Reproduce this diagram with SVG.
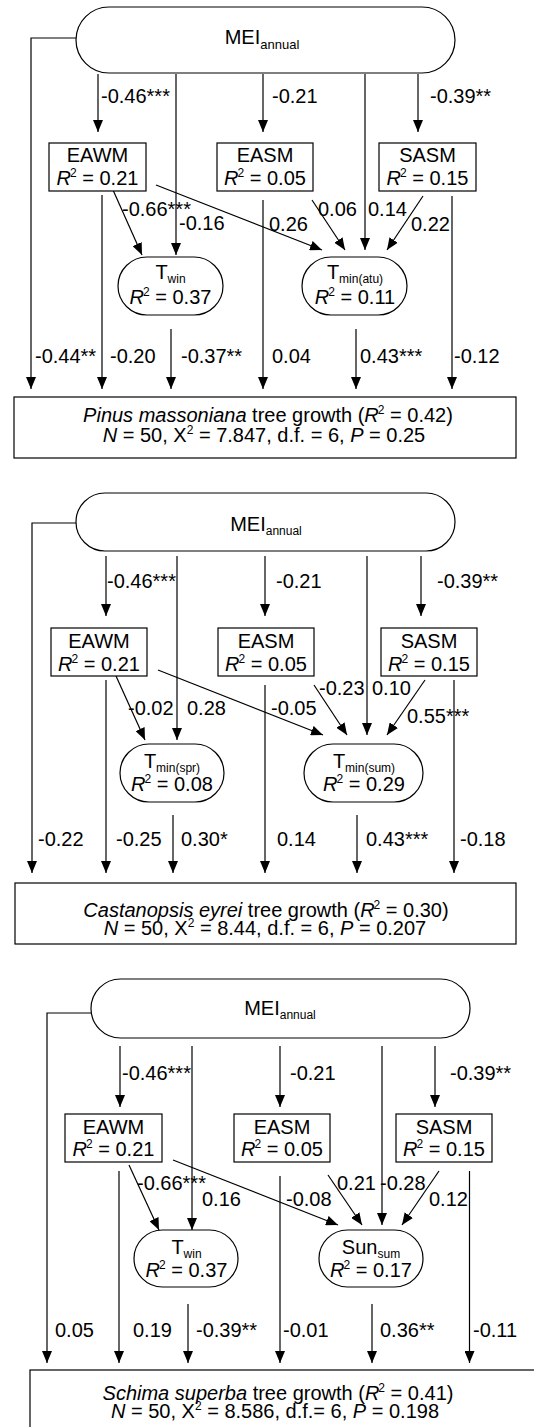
<svg xmlns="http://www.w3.org/2000/svg" width="534" height="1427" viewBox="0 0 534 1427">
<defs>
<marker id="ah" viewBox="0 0 12 10" refX="12" refY="5" markerWidth="12" markerHeight="10" markerUnits="userSpaceOnUse" orient="auto"><path d="M0,0 L12,5 L0,10 z" fill="#000"/></marker>
<style>
.ln{stroke:#000;stroke-width:1.2;fill:none}
.ar{marker-end:url(#ah)}
.bx{fill:#fff;stroke:#000;stroke-width:1.2}
text{font-family:"Liberation Sans",Arial,sans-serif;font-size:20px;fill:#000}
.c{text-anchor:middle}
.it{font-style:italic}
.sup{font-size:12px}
.sub{font-size:12px}
.mei{font-size:20px}
.meisub{font-size:13px}
</style>
</defs>
<rect width="534" height="1427" fill="#fff"/>

<!-- ================= PANEL 1 ================= -->
<g id="p1-connectors">
<path class="ln ar" d="M76,38 H31 V389"/>
<path class="ln ar" d="M98,74 V132"/>
<path class="ln ar" d="M176,74 V255"/>
<path class="ln ar" d="M263,74 V132"/>
<path class="ln ar" d="M365,74 V250"/>
<path class="ln ar" d="M418,74 V132"/>
<path class="ln ar" d="M102,195 V389"/>
<path class="ln ar" d="M263,200 V389"/>
<path class="ln ar" d="M452,196 V389"/>
<path class="ln ar" d="M113,190 L142,255"/>
<path class="ln ar" d="M156,185 L322,250"/>
<path class="ln ar" d="M312,200 L345,250"/>
<path class="ln ar" d="M423,196 L387,250"/>
<path class="ln ar" d="M171,329 V389"/>
<path class="ln ar" d="M356,329 V389"/>
</g>
<g id="p1-labels">
<text x="101" y="103">-0.46***</text>
<text x="272" y="103">-0.21</text>
<text x="430" y="103">-0.39**</text>
<text x="122" y="216">-0.66***</text>
<text x="179" y="230">-0.16</text>
<text x="269" y="231">0.26</text>
<text x="318" y="216">0.06</text>
<text x="368" y="216">0.14</text>
<text x="411" y="231">0.22</text>
<text x="35" y="363">-0.44**</text>
<text x="110" y="363">-0.20</text>
<text x="181" y="363">-0.37**</text>
<text x="272" y="363">0.04</text>
<text x="360" y="363">0.43***</text>
<text x="454" y="363">-0.12</text>
</g>
<g id="p1-mei">
<rect class="bx" x="76" y="7" width="379" height="66" rx="33"/>
<text class="c" x="262" y="44"><tspan class="mei">MEI</tspan><tspan class="meisub" dy="5">annual</tspan></text>
</g>
<g id="p1-eawm">
<rect class="bx" x="49" y="143" width="97" height="48"/>
<text class="c" x="97.5" y="162">EAWM</text>
<text class="c" x="97.5" y="185"><tspan class="it">R</tspan><tspan class="sup" dx="-1" dy="-8">2</tspan><tspan dy="8"> = 0.21</tspan></text>
</g>
<g id="p1-easm">
<rect class="bx" x="217" y="143" width="96" height="48"/>
<text class="c" x="265" y="162">EASM</text>
<text class="c" x="265" y="185"><tspan class="it">R</tspan><tspan class="sup" dx="-1" dy="-8">2</tspan><tspan dy="8"> = 0.05</tspan></text>
</g>
<g id="p1-sasm">
<rect class="bx" x="379" y="143" width="97" height="48"/>
<text class="c" x="427.5" y="162">SASM</text>
<text class="c" x="427.5" y="185"><tspan class="it">R</tspan><tspan class="sup" dx="-1" dy="-8">2</tspan><tspan dy="8"> = 0.15</tspan></text>
</g>
<g id="p1-twin">
<rect class="bx" x="118" y="257" width="105" height="58" rx="29"/>
<text class="c" x="170.5" y="279">T<tspan class="sub" dy="4">win</tspan></text>
<text class="c" x="170.5" y="304"><tspan class="it">R</tspan><tspan class="sup" dx="-1" dy="-8">2</tspan><tspan dy="8"> = 0.37</tspan></text>
</g>
<g id="p1-tminatu">
<rect class="bx" x="302" y="257" width="105" height="58" rx="29"/>
<text class="c" x="355" y="279">T<tspan class="sub" dy="4">min(atu)</tspan></text>
<text class="c" x="355" y="304"><tspan class="it">R</tspan><tspan class="sup" dx="-1" dy="-8">2</tspan><tspan dy="8"> = 0.11</tspan></text>
</g>
<g id="p1-growth">
<rect class="bx" x="14" y="397" width="502" height="61"/>
<text class="c" x="268" y="422"><tspan class="it">Pinus massoniana</tspan> tree growth (<tspan class="it">R</tspan><tspan class="sup" dx="-1" dy="-8">2</tspan><tspan dy="8"> = 0.42)</tspan></text>
<text class="c" x="264" y="442"><tspan class="it">N</tspan> = 50, X<tspan class="sup" dy="-8">2</tspan><tspan dy="8"> = 7.847, d.f. = 6, </tspan><tspan class="it">P</tspan> = 0.25</text>
</g>

<!-- ================= PANEL 2 ================= -->
<g id="p2-connectors">
<path class="ln ar" d="M76,523 H32 V873"/>
<path class="ln ar" d="M106,556 V616"/>
<path class="ln ar" d="M177,556 V740"/>
<path class="ln ar" d="M265,556 V616"/>
<path class="ln ar" d="M367,556 V735"/>
<path class="ln ar" d="M421,556 V616"/>
<path class="ln ar" d="M106,680 V873"/>
<path class="ln ar" d="M265,685 V873"/>
<path class="ln ar" d="M454,680 V873"/>
<path class="ln ar" d="M116,676 L145,740"/>
<path class="ln ar" d="M158,670 L323,735"/>
<path class="ln ar" d="M314,685 L347,735"/>
<path class="ln ar" d="M425,680 L387,735"/>
<path class="ln ar" d="M173,815 V873"/>
<path class="ln ar" d="M357,815 V873"/>
</g>
<g id="p2-labels">
<text x="107" y="588">-0.46***</text>
<text x="276" y="588">-0.21</text>
<text x="437" y="588">-0.39**</text>
<text x="128" y="715">-0.02</text>
<text x="187" y="715">0.28</text>
<text x="271" y="715">-0.05</text>
<text x="319" y="695">-0.23</text>
<text x="372" y="695">0.10</text>
<text x="407" y="723">0.55***</text>
<text x="38" y="846">-0.22</text>
<text x="116" y="846">-0.25</text>
<text x="181" y="846">0.30*</text>
<text x="277" y="846">0.14</text>
<text x="366" y="846">0.43***</text>
<text x="460" y="846">-0.18</text>
</g>
<g id="p2-mei">
<rect class="bx" x="76" y="493" width="379" height="58" rx="29"/>
<text class="c" x="266" y="531"><tspan class="mei">MEI</tspan><tspan class="sub" dy="4">annual</tspan></text>
</g>
<g id="p2-eawm">
<rect class="bx" x="51" y="628" width="96" height="48"/>
<text class="c" x="99" y="648">EAWM</text>
<text class="c" x="99" y="671"><tspan class="it">R</tspan><tspan class="sup" dx="-1" dy="-8">2</tspan><tspan dy="8"> = 0.21</tspan></text>
</g>
<g id="p2-easm">
<rect class="bx" x="218" y="628" width="96" height="48"/>
<text class="c" x="266" y="648">EASM</text>
<text class="c" x="266" y="671"><tspan class="it">R</tspan><tspan class="sup" dx="-1" dy="-8">2</tspan><tspan dy="8"> = 0.05</tspan></text>
</g>
<g id="p2-sasm">
<rect class="bx" x="381" y="628" width="96" height="48"/>
<text class="c" x="429" y="648">SASM</text>
<text class="c" x="429" y="671"><tspan class="it">R</tspan><tspan class="sup" dx="-1" dy="-8">2</tspan><tspan dy="8"> = 0.15</tspan></text>
</g>
<g id="p2-tminspr">
<rect class="bx" x="120" y="744" width="104" height="58" rx="29"/>
<text class="c" x="172" y="768">T<tspan class="sub" dy="4">min(spr)</tspan></text>
<text class="c" x="172" y="791"><tspan class="it">R</tspan><tspan class="sup" dx="-1" dy="-8">2</tspan><tspan dy="8"> = 0.08</tspan></text>
</g>
<g id="p2-tminsum">
<rect class="bx" x="304" y="744" width="119" height="58" rx="29"/>
<text class="c" x="364" y="768">T<tspan class="sub" dy="4">min(sum)</tspan></text>
<text class="c" x="364" y="791"><tspan class="it">R</tspan><tspan class="sup" dx="-1" dy="-8">2</tspan><tspan dy="8"> = 0.29</tspan></text>
</g>
<g id="p2-growth">
<rect class="bx" x="15" y="883" width="501" height="61"/>
<text class="c" x="266" y="917"><tspan class="it">Castanopsis eyrei</tspan> tree growth (<tspan class="it">R</tspan><tspan class="sup" dx="-1" dy="-8">2</tspan><tspan dy="8"> = 0.30)</tspan></text>
<text class="c" x="265" y="935"><tspan class="it">N</tspan> = 50, X<tspan class="sup" dy="-8">2</tspan><tspan dy="8"> = 8.44, d.f. = 6, </tspan><tspan class="it">P</tspan> = 0.207</text>
</g>

<!-- ================= PANEL 3 ================= -->
<g id="p3-connectors">
<path class="ln ar" d="M91,1013 H47 V1363"/>
<path class="ln ar" d="M120,1046 V1107"/>
<path class="ln ar" d="M192,1046 V1230"/>
<path class="ln ar" d="M280,1046 V1107"/>
<path class="ln ar" d="M382,1046 V1225"/>
<path class="ln ar" d="M435,1046 V1107"/>
<path class="ln ar" d="M119,1171 V1363"/>
<path class="ln ar" d="M280,1176 V1363"/>
<path class="ln ar" d="M469.5,1171 V1363"/>
<path class="ln ar" d="M129,1165 L159,1230"/>
<path class="ln ar" d="M173,1160 L338,1225"/>
<path class="ln ar" d="M328,1175 L362,1225"/>
<path class="ln ar" d="M439,1171 L402,1225"/>
<path class="ln ar" d="M188,1304 V1363"/>
<path class="ln ar" d="M372,1304 V1363"/>
</g>
<g id="p3-labels">
<text x="122" y="1080">-0.46***</text>
<text x="290" y="1080">-0.21</text>
<text x="450" y="1080">-0.39**</text>
<text x="137" y="1190">-0.66***</text>
<text x="202" y="1206">0.16</text>
<text x="286" y="1206">-0.08</text>
<text x="337" y="1190">0.21</text>
<text x="380" y="1190">-0.28</text>
<text x="429" y="1206">0.12</text>
<text x="55" y="1337">0.05</text>
<text x="133" y="1337">0.19</text>
<text x="196" y="1337">-0.39**</text>
<text x="283" y="1337">-0.01</text>
<text x="380" y="1337">0.36**</text>
<text x="473" y="1337">-0.11</text>
</g>
<g id="p3-mei">
<rect class="bx" x="91" y="979" width="379" height="59" rx="29.5"/>
<text class="c" x="280" y="1015"><tspan class="mei">MEI</tspan><tspan class="sub" dy="4">annual</tspan></text>
</g>
<g id="p3-eawm">
<rect class="bx" x="65" y="1114" width="97" height="48"/>
<text class="c" x="113.5" y="1134">EAWM</text>
<text class="c" x="113.5" y="1156"><tspan class="it">R</tspan><tspan class="sup" dx="-1" dy="-8">2</tspan><tspan dy="8"> = 0.21</tspan></text>
</g>
<g id="p3-easm">
<rect class="bx" x="234" y="1114" width="96" height="48"/>
<text class="c" x="282" y="1134">EASM</text>
<text class="c" x="282" y="1156"><tspan class="it">R</tspan><tspan class="sup" dx="-1" dy="-8">2</tspan><tspan dy="8"> = 0.05</tspan></text>
</g>
<g id="p3-sasm">
<rect class="bx" x="396" y="1114" width="96" height="48"/>
<text class="c" x="444" y="1134">SASM</text>
<text class="c" x="444" y="1156"><tspan class="it">R</tspan><tspan class="sup" dx="-1" dy="-8">2</tspan><tspan dy="8"> = 0.15</tspan></text>
</g>
<g id="p3-twin">
<rect class="bx" x="134" y="1230" width="104" height="57" rx="28.5"/>
<text class="c" x="186.5" y="1254">T<tspan class="sub" dy="4">win</tspan></text>
<text class="c" x="186.5" y="1277"><tspan class="it">R</tspan><tspan class="sup" dx="-1" dy="-8">2</tspan><tspan dy="8"> = 0.37</tspan></text>
</g>
<g id="p3-sunsum">
<rect class="bx" x="319" y="1230" width="104" height="57" rx="28.5"/>
<text class="c" x="371" y="1254">Sun<tspan class="sub" dy="4">sum</tspan></text>
<text class="c" x="371" y="1277"><tspan class="it">R</tspan><tspan class="sup" dx="-1" dy="-8">2</tspan><tspan dy="8"> = 0.17</tspan></text>
</g>
<g id="p3-growth">
<rect class="bx" x="30" y="1370" width="520" height="70"/>
<text class="c" x="278" y="1400"><tspan class="it">Schima superba</tspan> tree growth (<tspan class="it">R</tspan><tspan class="sup" dx="-1" dy="-8">2</tspan><tspan dy="8"> = 0.41)</tspan></text>
<text class="c" x="275" y="1418"><tspan class="it">N</tspan> = 50, X<tspan class="sup" dy="-8">2</tspan><tspan dy="8"> = 8.586, d.f.= 6, </tspan><tspan class="it">P</tspan> = 0.198</text>
</g>
</svg>
